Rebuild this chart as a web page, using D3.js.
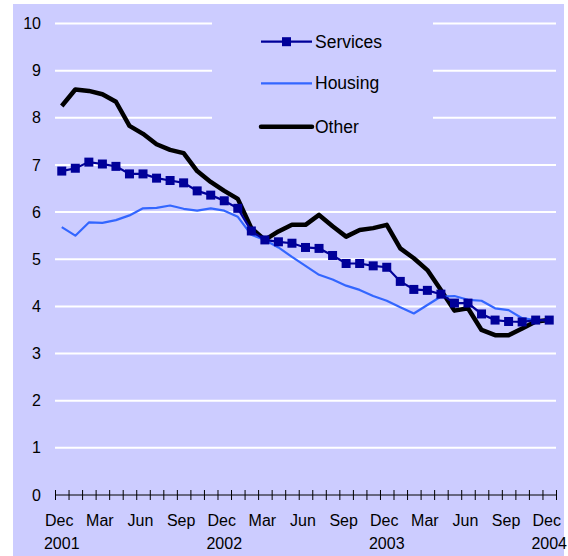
<!DOCTYPE html>
<html>
<head>
<meta charset="utf-8">
<script src="https://cdn.jsdelivr.net/npm/d3@7"></script>
<style>
html,body{margin:0;padding:0;background:#ffffff;}
svg{display:block;font-family:"Liberation Sans",Arial,sans-serif;}
</style>
</head>
<body>
<svg id="chart" width="568" height="556"></svg>
<script>
const categories = ["Dec-01","Jan-02","Feb-02","Mar-02","Apr-02","May-02","Jun-02","Jul-02","Aug-02","Sep-02","Oct-02","Nov-02",
  "Dec-02","Jan-03","Feb-03","Mar-03","Apr-03","May-03","Jun-03","Jul-03","Aug-03","Sep-03","Oct-03","Nov-03",
  "Dec-03","Jan-04","Feb-04","Mar-04","Apr-04","May-04","Jun-04","Jul-04","Aug-04","Sep-04","Oct-04","Nov-04","Dec-04"];
const services = [6.87,6.93,7.06,7.02,6.97,6.81,6.81,6.72,6.67,6.62,6.45,6.36,
  6.24,6.08,5.60,5.41,5.37,5.34,5.25,5.23,5.08,4.91,4.91,4.86,
  4.83,4.53,4.36,4.34,4.26,4.07,4.07,3.84,3.71,3.68,3.67,3.71,3.71];
const housing = [5.68,5.50,5.78,5.77,5.83,5.93,6.08,6.09,6.14,6.07,6.03,6.08,
  6.03,5.90,5.52,5.41,5.25,5.05,4.86,4.67,4.57,4.44,4.35,4.22,
  4.12,3.98,3.85,4.03,4.21,4.22,4.14,4.12,3.96,3.92,3.75,3.71,3.71];
const other = [8.25,8.60,8.57,8.50,8.34,7.83,7.66,7.44,7.32,7.25,6.87,6.64,
  6.45,6.28,5.66,5.41,5.59,5.73,5.73,5.94,5.70,5.48,5.62,5.66,
  5.73,5.23,5.02,4.77,4.35,3.91,3.96,3.50,3.39,3.39,3.53,3.68,3.71];
const monthTickLabels = ["Dec","Mar","Jun","Sep","Dec","Mar","Jun","Sep","Dec","Mar","Jun","Sep","Dec"];
const yearTickLabels = ["2001","2002","2003","2004"];
const yTicks = [0,1,2,3,4,5,6,7,8,9,10];
const seriesNames = ["Services","Housing","Other"];

const svg = d3.select("#chart");
const X0 = 55, X1 = 556, Y0 = 495, Y1 = 23.5;

svg.append("rect").attr("x",13).attr("y",4).attr("width",551).attr("height",552).attr("fill","#CCCCFF");

const x = d3.scaleBand().domain(categories).range([X0, X1]).padding(0);
const xb = d3.scaleLinear().domain([0, categories.length]).range([X0, X1]);
const y = d3.scaleLinear().domain([0,10]).range([Y0, Y1]);
const cx = c => x(c) + x.bandwidth()/2;

// gridlines
svg.append("g").selectAll("line").data(yTicks.filter(v => v > 0)).join("line")
  .attr("x1", X0).attr("x2", X1).attr("y1", d => y(d)).attr("y2", d => y(d))
  .attr("stroke", "#ffffff").attr("stroke-width", 2);

// y axis labels
const yAxis = d3.axisLeft(y).tickValues(yTicks).tickSize(0).tickPadding(14).tickFormat(d3.format("d"));
const gy = svg.append("g").attr("transform", `translate(${X0},0)`).call(yAxis);
gy.select(".domain").remove();
gy.selectAll("text").attr("font-size", 16).attr("fill", "#000").attr("font-family", "Liberation Sans, Arial, sans-serif");

// x axis with ticks at category boundaries
const xAxis = d3.axisBottom(xb).tickValues(d3.range(categories.length + 1)).tickSize(5).tickFormat("");
const gx = svg.append("g").attr("transform", `translate(0,${Y0})`).call(xAxis);
gx.select(".domain").attr("d", `M${X0},0H${X1}`).attr("stroke", "#000");
gx.selectAll(".tick line").attr("y1", -5).attr("y2", 5).attr("stroke", "#000");

// month labels
const monthCats = categories.filter((c, i) => i % 3 === 0);
svg.append("g").selectAll("text").data(monthCats).join("text")
  .attr("x", (d) => cx(d) - 2.5).attr("y", 526)
  .attr("text-anchor", "middle").attr("font-size", 16).attr("fill", "#000")
  .text((d, i) => monthTickLabels[i]);
const yearCats = categories.filter((c, i) => i % 12 === 0);
svg.append("g").selectAll("text").data(yearCats).join("text")
  .attr("x", d => cx(d)).attr("y", 549)
  .attr("text-anchor", "middle").attr("font-size", 16).attr("fill", "#000")
  .text((d, i) => yearTickLabels[i]);

// legend backing box
svg.append("rect").attr("x", 212).attr("y", 8).attr("width", 221).attr("height", 134).attr("fill", "#CCCCFF");

const line = d3.line().x((d, i) => cx(categories[i])).y(d => y(d));

svg.append("path").datum(other).attr("d", line).attr("fill", "none")
  .attr("stroke", "#000000").attr("stroke-width", 4.5).attr("stroke-linejoin", "round");
svg.append("path").datum(housing).attr("d", line).attr("fill", "none")
  .attr("stroke", "#3366FF").attr("stroke-width", 2.2).attr("stroke-linejoin", "round");
svg.append("path").datum(services).attr("d", line).attr("fill", "none")
  .attr("stroke", "#000099").attr("stroke-width", 2.2);
const ms = 9;
svg.append("g").selectAll("rect").data(services).join("rect")
  .attr("x", (d, i) => cx(categories[i]) - ms/2).attr("y", d => y(d) - ms/2)
  .attr("width", ms).attr("height", ms).attr("fill", "#000099");

// legend
const legendY = [41.7, 83.3, 126.7];
const legendStyle = [
  {color: "#000099", w: 2.2, marker: true},
  {color: "#3366FF", w: 2.2, marker: false},
  {color: "#000000", w: 4.5, marker: false}
];
const lg = svg.append("g");
seriesNames.forEach((name, i) => {
  const st = legendStyle[i];
  lg.append("line").attr("x1", 261).attr("x2", 312).attr("y1", legendY[i]).attr("y2", legendY[i])
    .attr("stroke", st.color).attr("stroke-width", st.w).attr("stroke-linecap", i === 2 ? "round" : "butt");
  if (st.marker) lg.append("rect").attr("x", 286.5 - ms/2).attr("y", legendY[i] - ms/2)
    .attr("width", ms).attr("height", ms).attr("fill", st.color);
  lg.append("text").attr("x", 315).attr("y", legendY[i]).attr("dy", "0.35em")
    .attr("font-size", 17.5).attr("fill", "#000").text(name);
});
</script>
</body>
</html>
